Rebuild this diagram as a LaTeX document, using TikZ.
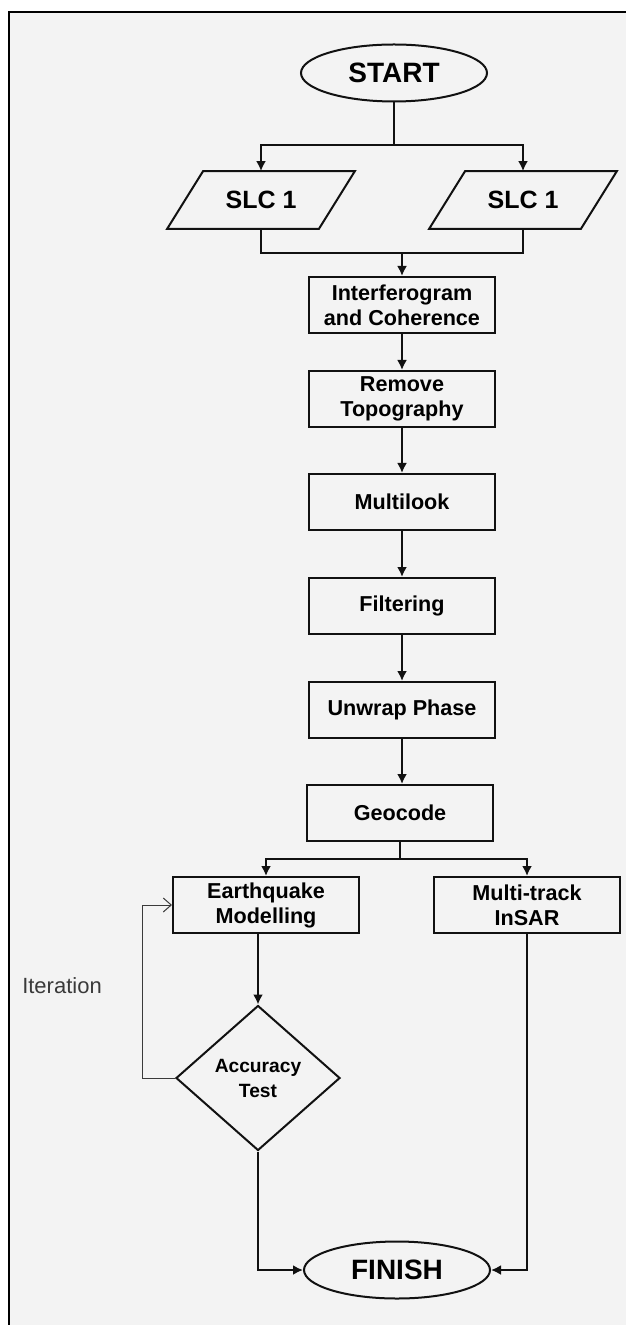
\documentclass[tikz,border=0pt]{standalone}
\usepackage{fontspec}
\setmainfont{Liberation Sans}
\usetikzlibrary{shapes.geometric, arrows.meta}
\definecolor{paper}{HTML}{F3F3F3}
\definecolor{ink}{HTML}{111111}
\definecolor{loopgray}{HTML}{3A3A3A}

\begin{document}
\begin{tikzpicture}[x=0.5pt, y=-0.5pt, >={Latex[length=5pt, width=5pt]},
    line/.style = {draw=ink, line width=1pt},
    box/.style = {line, rectangle, minimum width=93pt, minimum height=28pt, inner sep=0pt,
        align=center, font=\bfseries\fontsize{10.8}{12.5}\selectfont},
    term/.style = {line, ellipse, minimum width=93pt, minimum height=28.5pt, inner sep=0pt,
        font=\bfseries\fontsize{14}{16}\selectfont},
    data/.style = {rectangle, minimum width=75.5pt, minimum height=28.5pt, inner sep=0pt,
        font=\bfseries\fontsize{12.5}{14}\selectfont},
    decision/.style = {line, diamond, minimum width=82pt, minimum height=72.5pt, inner sep=0pt,
        align=center, font=\bfseries\fontsize{9.6}{12.5}\selectfont},
    iterline/.style = {draw=loopgray, line width=0.5pt}]
    \useasboundingbox (0,0) rectangle (626,1325);
    \fill[paper] (9,12) rectangle (626,1325);
    \draw[line width=0.8pt] (9,1325) -- (9,12) -- (626,12);

    \node[term] (start) at (394,73) {START};
    \node[data] (slcA) at (261,200) {SLC 1};
    \node[data] (slcB) at (523,200) {SLC 1};
    \foreach \n in {slcA, slcB}
        \draw[line] ([xshift=-9pt]\n.south west) -- ([xshift=-9pt]\n.south east)
            -- ([xshift=9pt]\n.north east) -- ([xshift=9pt]\n.north west) -- cycle;
    \node[box] (interf) at (402,305) {Interferogram\\and Coherence};
    \node[box] (topo) at (402,399) {Remove\\Topography};
    \node[box] (multi) at (402,502) {Multilook};
    \node[box] (filter) at (402,606) {Filtering};
    \node[box] (unwrap) at (402,710) {Unwrap Phase};
    \node[box] (geo) at (400,813) {Geocode};
    \node[box] (quake) at (266,905) {Earthquake\\Modelling};
    \node[box] (insar) at (527,905) {Multi-track\\InSAR};
    \node[decision] (acc) at (258,1078) {Accuracy\\Test};
    \node[term] (finish) at (397,1270) {FINISH};
    \node[text=loopgray, font=\fontsize{11}{13}\selectfont] (iterlabel) at (62,986) {Iteration};

    \coordinate (split1) at (394,145);
    \coordinate (join1) at (402,253);
    \coordinate (split2) at (400,859);
    \coordinate (loop) at (142,1078);

    \draw[line] (start.south) -- (split1);
    \draw[line, ->] (split1) -| (slcA.north);
    \draw[line, ->] (split1) -| (slcB.north);
    \draw[line] (slcA.south) |- (join1);
    \draw[line] (slcB.south) |- (join1);
    \draw[line, ->] (join1) -- (interf.north);
    \foreach \a/\b in {interf/topo, topo/multi, multi/filter, filter/unwrap}
        \draw[line, ->] (\a) -- (\b);
    \draw[line, ->] (unwrap.south) -- (unwrap.south |- geo.north);
    \draw[line] (geo.south) -- (split2);
    \draw[line, ->] (split2) -| (quake.north);
    \draw[line, ->] (split2) -| (insar.north);
    \draw[line, ->] (acc.north |- quake.south) -- (acc.north);
    \draw[line, ->] (acc.south) |- (finish.west);
    \draw[line, ->] (insar.south) |- (finish.east);
    \draw[iterline, -{Straight Barb[length=4pt, width=7pt]}] (acc.west) -- (loop) |- (quake.west);
\end{tikzpicture}
\end{document}
